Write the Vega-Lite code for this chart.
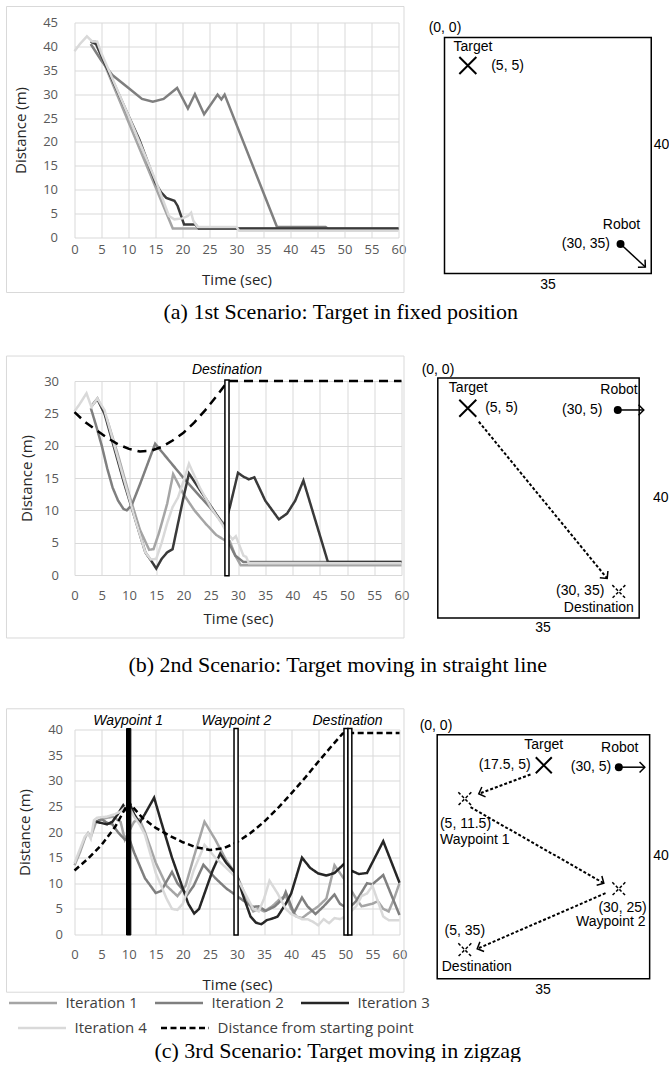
{
"$schema": "https://vega.github.io/schema/vega-lite/v6.json",
"background": "white",
"padding": {"left": 5.5, "top": 5.5, "right": 0, "bottom": 0},
"spacing": 31.5,
"resolve": {"scale": {"color": "independent", "strokeDash": "independent"}},
"datasets": {
"r1": [
{"s":"Iteration 1","t":3,"d":41},{"s":"Iteration 1","t":3.8,"d":41},{"s":"Iteration 1","t":18.2,"d":1.9},{"s":"Iteration 1","t":60,"d":1.9},
{"s":"Iteration 2","t":3,"d":40.5},{"s":"Iteration 2","t":5,"d":37},{"s":"Iteration 2","t":7,"d":34},{"s":"Iteration 2","t":10,"d":31.3},{"s":"Iteration 2","t":12.5,"d":29},{"s":"Iteration 2","t":14.5,"d":28.4},{"s":"Iteration 2","t":16.5,"d":29},{"s":"Iteration 2","t":19,"d":31.3},{"s":"Iteration 2","t":21,"d":27},{"s":"Iteration 2","t":22.3,"d":30},{"s":"Iteration 2","t":24,"d":25.8},{"s":"Iteration 2","t":26.5,"d":29.9},{"s":"Iteration 2","t":27.2,"d":28.9},{"s":"Iteration 2","t":27.8,"d":29.9},{"s":"Iteration 2","t":37.5,"d":2.2},{"s":"Iteration 2","t":46.5,"d":2.2},{"s":"Iteration 2","t":47,"d":1.8},{"s":"Iteration 2","t":60,"d":1.8},
{"s":"Iteration 3","t":3,"d":41},{"s":"Iteration 3","t":4,"d":40.5},{"s":"Iteration 3","t":6,"d":35.5},{"s":"Iteration 3","t":8,"d":30.5},{"s":"Iteration 3","t":10,"d":25.5},{"s":"Iteration 3","t":12,"d":20.5},{"s":"Iteration 3","t":14,"d":14.5},{"s":"Iteration 3","t":15,"d":11.5},{"s":"Iteration 3","t":16,"d":9.5},{"s":"Iteration 3","t":17,"d":8.3},{"s":"Iteration 3","t":18.5,"d":7.7},{"s":"Iteration 3","t":19.1,"d":6.6},{"s":"Iteration 3","t":20.3,"d":2.7},{"s":"Iteration 3","t":22.4,"d":2.7},{"s":"Iteration 3","t":23,"d":1.9},{"s":"Iteration 3","t":60,"d":1.9},
{"s":"Iteration 4","t":0,"d":39},{"s":"Iteration 4","t":1,"d":40.5},{"s":"Iteration 4","t":2.3,"d":42.1},{"s":"Iteration 4","t":3.3,"d":41},{"s":"Iteration 4","t":4.2,"d":41},{"s":"Iteration 4","t":5,"d":38.5},{"s":"Iteration 4","t":10,"d":25.5},{"s":"Iteration 4","t":15,"d":12},{"s":"Iteration 4","t":17.5,"d":4.5},{"s":"Iteration 4","t":18.5,"d":3.8},{"s":"Iteration 4","t":20,"d":4},{"s":"Iteration 4","t":21,"d":4.5},{"s":"Iteration 4","t":21.6,"d":5.2},{"s":"Iteration 4","t":22,"d":3.5},{"s":"Iteration 4","t":22.8,"d":2.2},{"s":"Iteration 4","t":30,"d":2.2},{"s":"Iteration 4","t":30.5,"d":1.4},{"s":"Iteration 4","t":60,"d":1.4}
],
"r2": [
{"s":"Iteration 1","t":3,"d":26},{"s":"Iteration 1","t":4.2,"d":27.3},{"s":"Iteration 1","t":6,"d":24},{"s":"Iteration 1","t":8,"d":18.5},{"s":"Iteration 1","t":10,"d":12.5},{"s":"Iteration 1","t":12,"d":7},{"s":"Iteration 1","t":13.7,"d":3.9},{"s":"Iteration 1","t":14.5,"d":4},{"s":"Iteration 1","t":15.5,"d":6.5},{"s":"Iteration 1","t":17,"d":11},{"s":"Iteration 1","t":18.1,"d":15.6},{"s":"Iteration 1","t":20,"d":12.5},{"s":"Iteration 1","t":22,"d":10},{"s":"Iteration 1","t":24,"d":8},{"s":"Iteration 1","t":26,"d":6.2},{"s":"Iteration 1","t":27.5,"d":5.4},{"s":"Iteration 1","t":28.5,"d":5.2},{"s":"Iteration 1","t":29.5,"d":3},{"s":"Iteration 1","t":30.5,"d":1.5},{"s":"Iteration 1","t":60,"d":1.5},
{"s":"Iteration 2","t":3,"d":25.8},{"s":"Iteration 2","t":4,"d":23},{"s":"Iteration 2","t":5,"d":20},{"s":"Iteration 2","t":6,"d":16.5},{"s":"Iteration 2","t":7,"d":13.5},{"s":"Iteration 2","t":8,"d":11.5},{"s":"Iteration 2","t":9,"d":10.2},{"s":"Iteration 2","t":9.6,"d":10},{"s":"Iteration 2","t":10.5,"d":10.8},{"s":"Iteration 2","t":12,"d":14},{"s":"Iteration 2","t":14.8,"d":20.3},{"s":"Iteration 2","t":20,"d":15},{"s":"Iteration 2","t":25,"d":10.3},{"s":"Iteration 2","t":27.5,"d":7.8},{"s":"Iteration 2","t":28.3,"d":5},{"s":"Iteration 2","t":29.5,"d":3},{"s":"Iteration 2","t":31,"d":2},{"s":"Iteration 2","t":60,"d":2},
{"s":"Iteration 3","t":3,"d":26},{"s":"Iteration 3","t":4.2,"d":27.2},{"s":"Iteration 3","t":5.5,"d":25},{"s":"Iteration 3","t":7,"d":20.5},{"s":"Iteration 3","t":9,"d":14.5},{"s":"Iteration 3","t":11,"d":9},{"s":"Iteration 3","t":13,"d":3.5},{"s":"Iteration 3","t":14,"d":2.3},{"s":"Iteration 3","t":15,"d":1},{"s":"Iteration 3","t":16,"d":2.5},{"s":"Iteration 3","t":17,"d":3.5},{"s":"Iteration 3","t":18,"d":4},{"s":"Iteration 3","t":19,"d":8},{"s":"Iteration 3","t":20,"d":12},{"s":"Iteration 3","t":21,"d":15.7},{"s":"Iteration 3","t":27.5,"d":7.5},{"s":"Iteration 3","t":28.5,"d":10.5},{"s":"Iteration 3","t":30,"d":15.8},{"s":"Iteration 3","t":31,"d":15.2},{"s":"Iteration 3","t":32,"d":14.8},{"s":"Iteration 3","t":33,"d":15.1},{"s":"Iteration 3","t":35,"d":11.5},{"s":"Iteration 3","t":37.5,"d":8.6},{"s":"Iteration 3","t":39,"d":9.5},{"s":"Iteration 3","t":40.5,"d":11.5},{"s":"Iteration 3","t":42,"d":14.6},{"s":"Iteration 3","t":46.5,"d":2},{"s":"Iteration 3","t":60,"d":2},
{"s":"Iteration 4","t":0,"d":25.3},{"s":"Iteration 4","t":1,"d":26.5},{"s":"Iteration 4","t":2.2,"d":28.1},{"s":"Iteration 4","t":3.1,"d":26},{"s":"Iteration 4","t":4.2,"d":27.3},{"s":"Iteration 4","t":5.5,"d":25.5},{"s":"Iteration 4","t":7,"d":21},{"s":"Iteration 4","t":9,"d":15},{"s":"Iteration 4","t":11,"d":9},{"s":"Iteration 4","t":13,"d":3.5},{"s":"Iteration 4","t":14,"d":2.4},{"s":"Iteration 4","t":15,"d":2.5},{"s":"Iteration 4","t":16,"d":5},{"s":"Iteration 4","t":17,"d":8},{"s":"Iteration 4","t":18,"d":10.5},{"s":"Iteration 4","t":19,"d":12},{"s":"Iteration 4","t":20,"d":14.5},{"s":"Iteration 4","t":21,"d":17.2},{"s":"Iteration 4","t":23,"d":13.5},{"s":"Iteration 4","t":25,"d":10.5},{"s":"Iteration 4","t":27,"d":8},{"s":"Iteration 4","t":28,"d":6.5},{"s":"Iteration 4","t":29,"d":5.5},{"s":"Iteration 4","t":29.6,"d":6},{"s":"Iteration 4","t":30.3,"d":4.5},{"s":"Iteration 4","t":31,"d":3},{"s":"Iteration 4","t":31.5,"d":2.8},{"s":"Iteration 4","t":32,"d":1.8},{"s":"Iteration 4","t":60,"d":1.8},
{"s":"Distance from starting point","t":0,"d":25.2},{"s":"Distance from starting point","t":2,"d":23.6},{"s":"Distance from starting point","t":4,"d":22.4},{"s":"Distance from starting point","t":6,"d":21.2},{"s":"Distance from starting point","t":8,"d":20.2},{"s":"Distance from starting point","t":10,"d":19.5},{"s":"Distance from starting point","t":12,"d":19.1},{"s":"Distance from starting point","t":14,"d":19.2},{"s":"Distance from starting point","t":16,"d":19.8},{"s":"Distance from starting point","t":18,"d":20.8},{"s":"Distance from starting point","t":20,"d":22},{"s":"Distance from starting point","t":22,"d":23.6},{"s":"Distance from starting point","t":24,"d":25.5},{"s":"Distance from starting point","t":26,"d":27.6},{"s":"Distance from starting point","t":28,"d":29.8},{"s":"Distance from starting point","t":28.5,"d":30},{"s":"Distance from starting point","t":60,"d":30}
],
"r3": [
{"s":"Iteration 1","t":0,"d":13.5},{"s":"Iteration 1","t":1,"d":16},{"s":"Iteration 1","t":2,"d":19},{"s":"Iteration 1","t":2.5,"d":19.8},{"s":"Iteration 1","t":3,"d":19},{"s":"Iteration 1","t":4,"d":22},{"s":"Iteration 1","t":5,"d":22.5},{"s":"Iteration 1","t":7,"d":23},{"s":"Iteration 1","t":8.5,"d":22},{"s":"Iteration 1","t":9.3,"d":18.5},{"s":"Iteration 1","t":10,"d":20},{"s":"Iteration 1","t":11,"d":22},{"s":"Iteration 1","t":12,"d":22.5},{"s":"Iteration 1","t":13,"d":20},{"s":"Iteration 1","t":15,"d":14},{"s":"Iteration 1","t":17,"d":9.5},{"s":"Iteration 1","t":19,"d":7.5},{"s":"Iteration 1","t":20.5,"d":9.5},{"s":"Iteration 1","t":22,"d":15},{"s":"Iteration 1","t":24,"d":22},{"s":"Iteration 1","t":26,"d":18.5},{"s":"Iteration 1","t":28,"d":14.5},{"s":"Iteration 1","t":30,"d":11.5},{"s":"Iteration 1","t":32,"d":6.5},{"s":"Iteration 1","t":33,"d":4.5},{"s":"Iteration 1","t":34,"d":5},{"s":"Iteration 1","t":35,"d":4.5},{"s":"Iteration 1","t":36.5,"d":5.5},{"s":"Iteration 1","t":38,"d":7},{"s":"Iteration 1","t":39,"d":7.5},{"s":"Iteration 1","t":40,"d":5},{"s":"Iteration 1","t":41,"d":3.5},{"s":"Iteration 1","t":42,"d":3.2},{"s":"Iteration 1","t":43,"d":4},{"s":"Iteration 1","t":45,"d":5.5},{"s":"Iteration 1","t":46.5,"d":7},{"s":"Iteration 1","t":48,"d":13.5},{"s":"Iteration 1","t":50,"d":10.5},{"s":"Iteration 1","t":52,"d":7},{"s":"Iteration 1","t":53,"d":5.5},{"s":"Iteration 1","t":55,"d":6},{"s":"Iteration 1","t":56,"d":6.5},{"s":"Iteration 1","t":57,"d":5},{"s":"Iteration 1","t":58,"d":4.5},{"s":"Iteration 1","t":59,"d":7},{"s":"Iteration 1","t":60,"d":10},
{"s":"Iteration 2","t":4,"d":22},{"s":"Iteration 2","t":5,"d":22.5},{"s":"Iteration 2","t":6,"d":21.8},{"s":"Iteration 2","t":7,"d":21.5},{"s":"Iteration 2","t":8,"d":20},{"s":"Iteration 2","t":9.3,"d":18.5},{"s":"Iteration 2","t":10,"d":19},{"s":"Iteration 2","t":11,"d":16},{"s":"Iteration 2","t":13,"d":11},{"s":"Iteration 2","t":15,"d":8.1},{"s":"Iteration 2","t":16,"d":8.5},{"s":"Iteration 2","t":18,"d":12.2},{"s":"Iteration 2","t":19,"d":10},{"s":"Iteration 2","t":20.8,"d":7.7},{"s":"Iteration 2","t":22,"d":9.5},{"s":"Iteration 2","t":23.8,"d":13.6},{"s":"Iteration 2","t":26,"d":11},{"s":"Iteration 2","t":28,"d":9},{"s":"Iteration 2","t":30,"d":7.5},{"s":"Iteration 2","t":32,"d":6},{"s":"Iteration 2","t":33,"d":5.4},{"s":"Iteration 2","t":34,"d":5.5},{"s":"Iteration 2","t":35.3,"d":4.6},{"s":"Iteration 2","t":37,"d":5.5},{"s":"Iteration 2","t":38.5,"d":7},{"s":"Iteration 2","t":39,"d":8.3},{"s":"Iteration 2","t":40.5,"d":4.2},{"s":"Iteration 2","t":42,"d":7.2},{"s":"Iteration 2","t":43,"d":5.5},{"s":"Iteration 2","t":44.5,"d":4},{"s":"Iteration 2","t":46,"d":5.5},{"s":"Iteration 2","t":48,"d":7.8},{"s":"Iteration 2","t":49,"d":6},{"s":"Iteration 2","t":50.5,"d":5},{"s":"Iteration 2","t":52,"d":6.5},{"s":"Iteration 2","t":54,"d":10},{"s":"Iteration 2","t":55,"d":9.8},{"s":"Iteration 2","t":57,"d":11.6},{"s":"Iteration 2","t":60,"d":3.8},
{"s":"Iteration 3","t":4,"d":22},{"s":"Iteration 3","t":6,"d":21.5},{"s":"Iteration 3","t":7,"d":22},{"s":"Iteration 3","t":8,"d":23.5},{"s":"Iteration 3","t":9,"d":25.2},{"s":"Iteration 3","t":9.6,"d":24.2},{"s":"Iteration 3","t":10,"d":26},{"s":"Iteration 3","t":11,"d":23.5},{"s":"Iteration 3","t":12,"d":21.8},{"s":"Iteration 3","t":13,"d":23.5},{"s":"Iteration 3","t":14.7,"d":26.7},{"s":"Iteration 3","t":16,"d":22},{"s":"Iteration 3","t":18,"d":15},{"s":"Iteration 3","t":20,"d":9},{"s":"Iteration 3","t":21,"d":6},{"s":"Iteration 3","t":22.1,"d":4.1},{"s":"Iteration 3","t":23,"d":5},{"s":"Iteration 3","t":24,"d":8},{"s":"Iteration 3","t":25.5,"d":12.5},{"s":"Iteration 3","t":26.9,"d":15.8},{"s":"Iteration 3","t":28,"d":14},{"s":"Iteration 3","t":30,"d":11.6},{"s":"Iteration 3","t":31,"d":8},{"s":"Iteration 3","t":32.5,"d":3.5},{"s":"Iteration 3","t":33.5,"d":2.3},{"s":"Iteration 3","t":34.5,"d":2},{"s":"Iteration 3","t":35.5,"d":2.8},{"s":"Iteration 3","t":36.5,"d":3.1},{"s":"Iteration 3","t":37.5,"d":3.5},{"s":"Iteration 3","t":39,"d":6},{"s":"Iteration 3","t":40,"d":8},{"s":"Iteration 3","t":42,"d":15},{"s":"Iteration 3","t":43.5,"d":13},{"s":"Iteration 3","t":45,"d":11.9},{"s":"Iteration 3","t":46.5,"d":11.5},{"s":"Iteration 3","t":48,"d":12},{"s":"Iteration 3","t":50,"d":14},{"s":"Iteration 3","t":51,"d":12.5},{"s":"Iteration 3","t":52.5,"d":11.8},{"s":"Iteration 3","t":54,"d":12},{"s":"Iteration 3","t":57,"d":18.2},{"s":"Iteration 3","t":60,"d":10.1},
{"s":"Iteration 4","t":0,"d":13.9},{"s":"Iteration 4","t":1.9,"d":19.1},{"s":"Iteration 4","t":2.5,"d":19.7},{"s":"Iteration 4","t":3,"d":18.7},{"s":"Iteration 4","t":3.6,"d":22.3},{"s":"Iteration 4","t":4.2,"d":22.8},{"s":"Iteration 4","t":6,"d":23},{"s":"Iteration 4","t":7.5,"d":23.5},{"s":"Iteration 4","t":8.5,"d":24},{"s":"Iteration 4","t":9.5,"d":25},{"s":"Iteration 4","t":10,"d":25},{"s":"Iteration 4","t":11,"d":23},{"s":"Iteration 4","t":12,"d":21.5},{"s":"Iteration 4","t":13,"d":19.5},{"s":"Iteration 4","t":15,"d":12},{"s":"Iteration 4","t":17,"d":7},{"s":"Iteration 4","t":18,"d":5},{"s":"Iteration 4","t":19,"d":4.8},{"s":"Iteration 4","t":20,"d":6},{"s":"Iteration 4","t":21,"d":9},{"s":"Iteration 4","t":22,"d":12.5},{"s":"Iteration 4","t":24,"d":17.5},{"s":"Iteration 4","t":26,"d":15},{"s":"Iteration 4","t":28,"d":13},{"s":"Iteration 4","t":30,"d":11},{"s":"Iteration 4","t":32,"d":7},{"s":"Iteration 4","t":33,"d":5},{"s":"Iteration 4","t":34,"d":4.5},{"s":"Iteration 4","t":35,"d":7},{"s":"Iteration 4","t":36,"d":10.5},{"s":"Iteration 4","t":37.5,"d":8},{"s":"Iteration 4","t":39,"d":5},{"s":"Iteration 4","t":40,"d":4},{"s":"Iteration 4","t":42,"d":3},{"s":"Iteration 4","t":43,"d":3},{"s":"Iteration 4","t":44,"d":2.5},{"s":"Iteration 4","t":45,"d":1.8},{"s":"Iteration 4","t":46,"d":3},{"s":"Iteration 4","t":47,"d":2.2},{"s":"Iteration 4","t":48,"d":3.2},{"s":"Iteration 4","t":49,"d":3},{"s":"Iteration 4","t":50,"d":3.5},{"s":"Iteration 4","t":52,"d":5.5},{"s":"Iteration 4","t":53,"d":7.5},{"s":"Iteration 4","t":54,"d":8},{"s":"Iteration 4","t":55,"d":9.5},{"s":"Iteration 4","t":56,"d":6.5},{"s":"Iteration 4","t":57,"d":3.5},{"s":"Iteration 4","t":58,"d":2.8},{"s":"Iteration 4","t":60,"d":2.8},
{"s":"Distance from starting point","t":0,"d":12.5},{"s":"Distance from starting point","t":2.5,"d":14.8},{"s":"Distance from starting point","t":5,"d":17.5},{"s":"Distance from starting point","t":7.5,"d":21},{"s":"Distance from starting point","t":10,"d":25.8},{"s":"Distance from starting point","t":12.5,"d":22.8},{"s":"Distance from starting point","t":15,"d":20.8},{"s":"Distance from starting point","t":17.5,"d":19.3},{"s":"Distance from starting point","t":20,"d":18},{"s":"Distance from starting point","t":22.5,"d":17},{"s":"Distance from starting point","t":25,"d":16.5},{"s":"Distance from starting point","t":27.5,"d":16.8},{"s":"Distance from starting point","t":30,"d":18},{"s":"Distance from starting point","t":32.5,"d":19.8},{"s":"Distance from starting point","t":35,"d":22},{"s":"Distance from starting point","t":37.5,"d":24.6},{"s":"Distance from starting point","t":40,"d":27.5},{"s":"Distance from starting point","t":42.5,"d":30.5},{"s":"Distance from starting point","t":45,"d":33.7},{"s":"Distance from starting point","t":47.5,"d":36.8},{"s":"Distance from starting point","t":49.5,"d":39.2},{"s":"Distance from starting point","t":50,"d":39.3},{"s":"Distance from starting point","t":60,"d":39.3}
],
"bars2": [{"name":"Destination","t":27.6,"t2":28.35}],
"marks2": [{"name":"Destination","t":27.97}],
"bars3": [{"name":"Waypoint 1","t":9.6,"t2":10.4},{"name":"Waypoint 2","t":29.45,"t2":30.2},{"name":"Destination","t":49.75,"t2":50.48},{"name":"Destination","t":50.48,"t2":51.2}],
"marks3": [{"name":"Waypoint 1","t":9.9},{"name":"Waypoint 2","t":29.9},{"name":"Destination","t":50.4}],
"room": [{"x":0,"y":0,"x2":35,"y2":40}],
"pts1": [{"x":3.95,"y":4.75,"kind":"target"},{"x":29.8,"y":35,"kind":"robot"}],
"seg1": [{"x":29.8,"y":35,"x2":34,"y2":38.9,"kind":"robot","ang":43}],
"lab1": [{"x":0.08,"y":-1.69,"text":"(0, 0)"},{"x":4.83,"y":1.64,"text":"Target"},{"x":10.67,"y":4.75,"text":"(5, 5)"},{"x":29.97,"y":31.86,"text":"Robot"},{"x":23.93,"y":35.03,"text":"(30, 35)"},{"x":17.52,"y":42.03,"text":"35"},{"x":36.74,"y":18.3,"text":"40"}],
"pts2": [{"x":5.21,"y":5.05,"kind":"target"},{"x":31.28,"y":5.33,"kind":"robot"},{"x":31.46,"y":35.6,"kind":"destination"}],
"seg2": [{"x":31.28,"y":5.33,"x2":35.8,"y2":5.33,"kind":"robot","ang":0},{"x":7.13,"y":7.28,"x2":29.44,"y2":33.4,"kind":"target","ang":50.6}],
"lab2": [{"x":0.03,"y":-1.33,"text":"(0, 0)"},{"x":5.3,"y":1.72,"text":"Target"},{"x":11.07,"y":5.05,"text":"(5, 5)"},{"x":31.5,"y":2.0,"text":"Robot"},{"x":25.1,"y":5.33,"text":"(30, 5)"},{"x":24.75,"y":35.5,"text":"(30, 35)"},{"x":27.98,"y":38.38,"text":"Destination"},{"x":18.28,"y":41.6,"text":"35"},{"x":38.76,"y":20.05,"text":"40"}],
"pts3": [{"x":17.56,"y":5.0,"kind":"target"},{"x":29.92,"y":5.31,"kind":"robot"},{"x":4.55,"y":10.49,"kind":"waypoint"},{"x":29.92,"y":25.25,"kind":"waypoint"},{"x":4.55,"y":35.25,"kind":"destination"}],
"seg3": [{"x":29.92,"y":5.31,"x2":34.2,"y2":5.31,"kind":"robot","ang":0},{"x":15.37,"y":6.51,"x2":6.85,"y2":9.67,"kind":"target","ang":159.5},{"x":5.49,"y":11.87,"x2":27.45,"y2":24.33,"kind":"target","ang":29.7},{"x":27.73,"y":25.97,"x2":6.59,"y2":35.08,"kind":"target","ang":156.6}],
"lab3": [{"x":-0.2,"y":-1.52,"text":"(0, 0)"},{"x":17.56,"y":1.75,"text":"Target"},{"x":11.12,"y":5.03,"text":"(17.5, 5)"},{"x":30.08,"y":2.2,"text":"Robot"},{"x":25.34,"y":5.31,"text":"(30, 5)"},{"x":4.66,"y":14.7,"text":"(5, 11.5)"},{"x":6.19,"y":17.2,"text":"Waypoint 1"},{"x":30.53,"y":28.36,"text":"(30, 25)"},{"x":28.6,"y":30.72,"text":"Waypoint 2"},{"x":4.55,"y":32.2,"text":"(5, 35)"},{"x":6.52,"y":38.1,"text":"Destination"},{"x":17.43,"y":41.92,"text":"35"},{"x":36.87,"y":19.95,"text":"40"}]
},
"vconcat": [
{
"spacing": 12,
"bounds": "flush",
"resolve": {"scale": {"color": "independent", "strokeDash": "independent"}},
"title": {"text": "(a) 1st Scenario: Target in fixed position", "orient": "bottom", "anchor": "middle", "frame": "bounds", "dx": 3, "offset": 9.5, "font": "Liberation Serif", "fontSize": 22, "fontWeight": "normal", "color": "#000000"},
"hconcat": [
{
"width": 324, "height": 215,
"layer": [
{"data": {"name": "r1"}, "mark": {"type": "line", "strokeWidth": 2.5},
 "encoding": {
  "x": {"field": "t", "type": "quantitative", "scale": {"domain": [0, 60], "nice": false, "zero": false}, "axis": {"values": [0,5,10,15,20,25,30,35,40,45,50,55,60], "title": "Time (sec)", "labelPadding": 6, "titlePadding": 16}},
  "y": {"field": "d", "type": "quantitative", "scale": {"domain": [0, 45], "nice": false}, "axis": {"values": [0,5,10,15,20,25,30,35,40,45], "title": "Distance (m)", "labelPadding": 17, "titlePadding": 14.5}},
  "color": {"field": "s", "type": "nominal", "scale": {"domain": ["Iteration 1","Iteration 2","Iteration 3","Iteration 4"], "range": ["#a5a5a5","#7f7f7f","#3a3a3a","#d9d9d9"]}, "legend": null}
 }},
{"data": {"values": [{}]}, "mark": {"type": "rect", "filled": false, "stroke": "#d9d9d9", "strokeWidth": 1},
 "encoding": {
  "x": {"datum": -12.59, "type": "quantitative", "axis": {"values": [0,5,10,15,20,25,30,35,40,45,50,55,60], "title": "Time (sec)", "labelPadding": 6, "titlePadding": 16}},
  "x2": {"datum": 61.02},
  "y": {"datum": 48.35, "type": "quantitative", "axis": {"values": [0,5,10,15,20,25,30,35,40,45], "title": "Distance (m)", "labelPadding": 17, "titlePadding": 14.5}},
  "y2": {"datum": -11.51}}}
]
},
{
"width": 259, "height": 270,
"encoding": {
 "x": {"field": "x", "type": "quantitative", "scale": {"domain": [-5.757, 38.09], "nice": false, "zero": false}, "axis": null},
 "y": {"field": "y", "type": "quantitative", "scale": {"domain": [-2.54, 43.22], "nice": false, "zero": false, "reverse": true}, "axis": null}
},
"layer": [
{"data": {"name": "room"}, "mark": {"type": "rect", "filled": false, "stroke": "#000000", "strokeWidth": 1.5},
 "encoding": {"x2": {"field": "x2"}, "y2": {"field": "y2"}}},
{"data": {"name": "seg1"}, "transform": [{"filter": "datum.kind === 'robot'"}], "mark": {"type": "rule", "stroke": "#000000", "strokeWidth": 1.5},
 "encoding": {"x2": {"field": "x2"}, "y2": {"field": "y2"}}},
{"data": {"name": "seg1"}, "mark": {"type": "point", "shape": "M-1,-1L0,0L-1,1", "filled": false, "stroke": "#000000", "strokeWidth": 1.5, "size": 110, "opacity": 1},
 "encoding": {"x": {"field": "x2", "type": "quantitative"}, "y": {"field": "y2", "type": "quantitative"}, "angle": {"field": "ang", "type": "quantitative", "scale": null}}},
{"data": {"name": "pts1"}, "transform": [{"filter": "datum.kind === 'target'"}], "mark": {"type": "point", "shape": "M-1,-1L1,1M1,-1L-1,1", "filled": false, "stroke": "#000000", "strokeWidth": 2, "size": 289, "opacity": 1}},
{"data": {"name": "pts1"}, "transform": [{"filter": "datum.kind === 'robot'"}], "mark": {"type": "point", "shape": "circle", "filled": true, "color": "#000000", "size": 64, "opacity": 1}},
{"data": {"name": "lab1"}, "mark": {"type": "text", "font": "Liberation Sans", "fontSize": 14, "color": "#000000", "align": "center", "baseline": "middle"},
 "encoding": {"text": {"field": "text"}}}
]
}
]
},
{
"spacing": 9,
"bounds": "flush",
"resolve": {"scale": {"color": "independent", "strokeDash": "independent"}},
"title": {"text": "(b) 2nd Scenario: Target moving in straight line", "orient": "bottom", "anchor": "middle", "frame": "bounds", "dx": 0, "offset": 16.5, "font": "Liberation Serif", "fontSize": 22, "fontWeight": "normal", "color": "#000000"},
"hconcat": [
{
"width": 327, "height": 194,
"layer": [
{"data": {"name": "r2"}, "mark": {"type": "line", "strokeWidth": 2.5},
 "encoding": {
  "x": {"field": "t", "type": "quantitative", "scale": {"domain": [0, 60], "nice": false, "zero": false}, "axis": {"values": [0,5,10,15,20,25,30,35,40,45,50,55,60], "title": "Time (sec)", "labelPadding": 14, "titlePadding": 9}},
  "y": {"field": "d", "type": "quantitative", "scale": {"domain": [0, 30], "nice": false}, "axis": {"values": [0,5,10,15,20,25,30], "title": "Distance (m)", "labelPadding": 16, "titlePadding": 9.5}},
  "color": {"field": "s", "type": "nominal", "scale": {"domain": ["Iteration 1","Iteration 2","Iteration 3","Iteration 4","Distance from starting point"], "range": ["#a5a5a5","#7f7f7f","#3a3a3a","#d9d9d9","#000000"]}, "legend": null},
  "strokeDash": {"field": "s", "type": "nominal", "scale": {"domain": ["Iteration 1","Iteration 2","Iteration 3","Iteration 4","Distance from starting point"], "range": [[1,0],[1,0],[1,0],[1,0],[9,6]]}, "legend": null}
 }},
{"data": {"name": "bars2"}, "mark": {"type": "rect", "fill": "#ffffff", "stroke": "#000000", "strokeWidth": 1.5},
 "encoding": {
  "x": {"field": "t", "type": "quantitative", "axis": {"values": [0,5,10,15,20,25,30,35,40,45,50,55,60], "title": "Time (sec)", "labelPadding": 14, "titlePadding": 9}},
  "x2": {"field": "t2"},
  "y": {"datum": -0.1, "type": "quantitative", "axis": {"values": [0,5,10,15,20,25,30], "title": "Distance (m)", "labelPadding": 16, "titlePadding": 9.5}},
  "y2": {"datum": 30.15}}},
{"data": {"name": "marks2"}, "mark": {"type": "text", "font": "Liberation Sans", "fontStyle": "italic", "fontSize": 14, "color": "#000000", "baseline": "middle", "dy": -11},
 "encoding": {
  "x": {"field": "t", "type": "quantitative", "axis": {"values": [0,5,10,15,20,25,30,35,40,45,50,55,60], "title": "Time (sec)", "labelPadding": 14, "titlePadding": 9}},
  "y": {"datum": 30, "type": "quantitative", "axis": {"values": [0,5,10,15,20,25,30], "title": "Distance (m)", "labelPadding": 16, "titlePadding": 9.5}},
  "text": {"field": "name"}}},
{"data": {"values": [{}]}, "mark": {"type": "rect", "filled": false, "stroke": "#d9d9d9", "strokeWidth": 1},
 "encoding": {
  "x": {"datum": -12.48, "type": "quantitative", "axis": {"values": [0,5,10,15,20,25,30,35,40,45,50,55,60], "title": "Time (sec)", "labelPadding": 14, "titlePadding": 9}},
  "x2": {"datum": 60.46},
  "y": {"datum": 33.86, "type": "quantitative", "axis": {"values": [0,5,10,15,20,25,30], "title": "Distance (m)", "labelPadding": 16, "titlePadding": 9.5}},
  "y2": {"datum": -9.74}}}
]
},
{
"width": 259, "height": 257,
"encoding": {
 "x": {"field": "x", "type": "quantitative", "scale": {"domain": [-4.745, 40.27], "nice": false, "zero": false}, "axis": null},
 "y": {"field": "y", "type": "quantitative", "scale": {"domain": [0.5, 43.33], "nice": false, "zero": false, "reverse": true}, "axis": null}
},
"layer": [
{"data": {"name": "room"}, "mark": {"type": "rect", "filled": false, "stroke": "#000000", "strokeWidth": 1.5},
 "encoding": {"x2": {"field": "x2"}, "y2": {"field": "y2"}}},
{"data": {"name": "seg2"}, "transform": [{"filter": "datum.kind === 'robot'"}], "mark": {"type": "rule", "stroke": "#000000", "strokeWidth": 1.5},
 "encoding": {"x2": {"field": "x2"}, "y2": {"field": "y2"}}},
{"data": {"name": "seg2"}, "transform": [{"filter": "datum.kind === 'target'"}], "mark": {"type": "rule", "stroke": "#000000", "strokeWidth": 2, "strokeDash": [3, 2]},
 "encoding": {"x2": {"field": "x2"}, "y2": {"field": "y2"}}},
{"data": {"name": "seg2"}, "mark": {"type": "point", "shape": "M-1,-1L0,0L-1,1", "filled": false, "stroke": "#000000", "strokeWidth": 1.5, "size": 110, "opacity": 1},
 "encoding": {"x": {"field": "x2", "type": "quantitative"}, "y": {"field": "y2", "type": "quantitative"}, "angle": {"field": "ang", "type": "quantitative", "scale": null}}},
{"data": {"name": "pts2"}, "transform": [{"filter": "datum.kind === 'target'"}], "mark": {"type": "point", "shape": "M-1,-1L1,1M1,-1L-1,1", "filled": false, "stroke": "#000000", "strokeWidth": 2, "size": 289, "opacity": 1}},
{"data": {"name": "pts2"}, "transform": [{"filter": "datum.kind === 'destination' || datum.kind === 'waypoint'"}], "mark": {"type": "point", "shape": "M-1,-1L1,1M1,-1L-1,1", "filled": false, "stroke": "#000000", "strokeWidth": 1.5, "strokeDash": [3, 2], "size": 169, "opacity": 1}},
{"data": {"name": "pts2"}, "transform": [{"filter": "datum.kind === 'robot'"}], "mark": {"type": "point", "shape": "circle", "filled": true, "color": "#000000", "size": 64, "opacity": 1}},
{"data": {"name": "lab2"}, "mark": {"type": "text", "font": "Liberation Sans", "fontSize": 14, "color": "#000000", "align": "center", "baseline": "middle"},
 "encoding": {"text": {"field": "text"}}}
]
}
]
},
{
"spacing": 11,
"bounds": "flush",
"resolve": {"scale": {"color": "independent", "strokeDash": "independent"}},
"title": {"text": "(c) 3rd Scenario: Target moving in zigzag", "orient": "bottom", "anchor": "middle", "frame": "bounds", "dx": 0, "offset": 3, "font": "Liberation Serif", "fontSize": 22, "fontWeight": "normal", "color": "#000000"},
"hconcat": [
{
"width": 325, "height": 205,
"layer": [
{"data": {"name": "r3"}, "mark": {"type": "line", "strokeWidth": 2.5},
 "encoding": {
  "x": {"field": "t", "type": "quantitative", "scale": {"domain": [0, 60], "nice": false, "zero": false}, "axis": {"values": [0,5,10,15,20,25,30,35,40,45,50,55,60], "title": "Time (sec)", "labelPadding": 14, "titlePadding": 16}},
  "y": {"field": "d", "type": "quantitative", "scale": {"domain": [0, 40], "nice": false}, "axis": {"values": [0,5,10,15,20,25,30,35,40], "title": "Distance (m)", "labelPadding": 12, "titlePadding": 15.5}},
  "color": {"field": "s", "type": "nominal", "scale": {"domain": ["Iteration 1","Iteration 2","Iteration 3","Iteration 4","Distance from starting point"], "range": ["#a5a5a5","#7f7f7f","#262626","#d9d9d9","#000000"]},
   "legend": {"title": null, "values": ["Iteration 1","Iteration 2","Iteration 3"], "orient": "none", "legendX": -67, "legendY": 264, "direction": "horizontal", "columns": 3, "symbolType": "stroke", "symbolSize": 2304, "symbolStrokeWidth": 2.5, "clipHeight": 19, "labelFont": "Open Sans", "labelFontSize": 15, "labelColor": "#404040", "labelOffset": 7, "columnPadding": 15, "rowPadding": 6, "labelLimit": 400, "padding": 0}},
  "strokeDash": {"field": "s", "type": "nominal", "scale": {"domain": ["Distance from starting point","Iteration 1","Iteration 2","Iteration 3","Iteration 4"], "range": [[6,3.5],[1,0],[1,0],[1,0],[1,0]]},
   "legend": {"title": null, "values": ["Iteration 4","Distance from starting point"], "orient": "none", "legendX": -58, "legendY": 289, "direction": "horizontal", "columns": 2, "symbolType": "stroke", "symbolSize": 2304, "symbolStrokeWidth": 2.5, "symbolStrokeColor": "#000000", "clipHeight": 19, "labelFont": "Open Sans", "labelFontSize": 15, "labelColor": "#404040", "labelOffset": 7, "columnPadding": 12, "labelLimit": 400, "padding": 0,
    "encode": {"symbols": {"update": {"stroke": {"signal": "datum.value === 'Iteration 4' ? '#d9d9d9' : '#000000'"}}}}}}
 }},
{"data": {"name": "bars3"}, "transform": [{"filter": "datum.name === 'Waypoint 1'"}], "mark": {"type": "rect", "fill": "#000000", "stroke": "#000000", "strokeWidth": 1},
 "encoding": {
  "x": {"field": "t", "type": "quantitative", "axis": {"values": [0,5,10,15,20,25,30,35,40,45,50,55,60], "title": "Time (sec)", "labelPadding": 14, "titlePadding": 16}},
  "x2": {"field": "t2"},
  "y": {"datum": -0.1, "type": "quantitative", "axis": {"values": [0,5,10,15,20,25,30,35,40], "title": "Distance (m)", "labelPadding": 12, "titlePadding": 15.5}},
  "y2": {"datum": 40.2}}},
{"data": {"name": "bars3"}, "transform": [{"filter": "datum.name !== 'Waypoint 1'"}], "mark": {"type": "rect", "fill": "#ffffff", "stroke": "#000000", "strokeWidth": 1.5},
 "encoding": {
  "x": {"field": "t", "type": "quantitative", "axis": {"values": [0,5,10,15,20,25,30,35,40,45,50,55,60], "title": "Time (sec)", "labelPadding": 14, "titlePadding": 16}},
  "x2": {"field": "t2"},
  "y": {"datum": -0.1, "type": "quantitative", "axis": {"values": [0,5,10,15,20,25,30,35,40], "title": "Distance (m)", "labelPadding": 12, "titlePadding": 15.5}},
  "y2": {"datum": 40.2}}},
{"data": {"name": "marks3"}, "mark": {"type": "text", "font": "Liberation Sans", "fontStyle": "italic", "fontSize": 14, "color": "#000000", "baseline": "middle", "dy": -9},
 "encoding": {
  "x": {"field": "t", "type": "quantitative", "axis": {"values": [0,5,10,15,20,25,30,35,40,45,50,55,60], "title": "Time (sec)", "labelPadding": 14, "titlePadding": 16}},
  "y": {"datum": 40, "type": "quantitative", "axis": {"values": [0,5,10,15,20,25,30,35,40], "title": "Distance (m)", "labelPadding": 12, "titlePadding": 15.5}},
  "text": {"field": "name"}}},
{"data": {"values": [{}]}, "mark": {"type": "rect", "filled": false, "stroke": "#d9d9d9", "strokeWidth": 1},
 "encoding": {
  "x": {"datum": -12.55, "type": "quantitative", "axis": {"values": [0,5,10,15,20,25,30,35,40,45,50,55,60], "title": "Time (sec)", "labelPadding": 14, "titlePadding": 16}},
  "x2": {"datum": 60.83},
  "y": {"datum": 44.04, "type": "quantitative", "axis": {"values": [0,5,10,15,20,25,30,35,40], "title": "Distance (m)", "labelPadding": 12, "titlePadding": 15.5}},
  "y2": {"datum": -11.26}}}
]
},
{
"width": 259, "height": 263,
"encoding": {
 "x": {"field": "x", "type": "quantitative", "scale": {"domain": [-4.399, 38.27], "nice": false, "zero": false}, "axis": null},
 "y": {"field": "y", "type": "quantitative", "scale": {"domain": [-0.869, 42.25], "nice": false, "zero": false, "reverse": true}, "axis": null}
},
"layer": [
{"data": {"name": "room"}, "mark": {"type": "rect", "filled": false, "stroke": "#000000", "strokeWidth": 1.5},
 "encoding": {"x2": {"field": "x2"}, "y2": {"field": "y2"}}},
{"data": {"name": "seg3"}, "transform": [{"filter": "datum.kind === 'robot'"}], "mark": {"type": "rule", "stroke": "#000000", "strokeWidth": 1.5},
 "encoding": {"x2": {"field": "x2"}, "y2": {"field": "y2"}}},
{"data": {"name": "seg3"}, "transform": [{"filter": "datum.kind === 'target'"}], "mark": {"type": "rule", "stroke": "#000000", "strokeWidth": 2, "strokeDash": [3, 2]},
 "encoding": {"x2": {"field": "x2"}, "y2": {"field": "y2"}}},
{"data": {"name": "seg3"}, "mark": {"type": "point", "shape": "M-1,-1L0,0L-1,1", "filled": false, "stroke": "#000000", "strokeWidth": 1.5, "size": 110, "opacity": 1},
 "encoding": {"x": {"field": "x2", "type": "quantitative"}, "y": {"field": "y2", "type": "quantitative"}, "angle": {"field": "ang", "type": "quantitative", "scale": null}}},
{"data": {"name": "pts3"}, "transform": [{"filter": "datum.kind === 'target'"}], "mark": {"type": "point", "shape": "M-1,-1L1,1M1,-1L-1,1", "filled": false, "stroke": "#000000", "strokeWidth": 2, "size": 256, "opacity": 1}},
{"data": {"name": "pts3"}, "transform": [{"filter": "datum.kind === 'destination' || datum.kind === 'waypoint'"}], "mark": {"type": "point", "shape": "M-1,-1L1,1M1,-1L-1,1", "filled": false, "stroke": "#000000", "strokeWidth": 1.5, "strokeDash": [3, 2], "size": 169, "opacity": 1}},
{"data": {"name": "pts3"}, "transform": [{"filter": "datum.kind === 'robot'"}], "mark": {"type": "point", "shape": "circle", "filled": true, "color": "#000000", "size": 64, "opacity": 1}},
{"data": {"name": "lab3"}, "mark": {"type": "text", "font": "Liberation Sans", "fontSize": 14, "color": "#000000", "align": "center", "baseline": "middle"},
 "encoding": {"text": {"field": "text"}}}
]
}
]
}
],
"config": {
 "view": {"stroke": null},
 "axis": {"domain": false, "ticks": false, "grid": true, "gridColor": "#d9d9d9", "gridWidth": 1, "labelFont": "Open Sans", "labelFontSize": 13, "labelColor": "#595959", "titleFont": "Open Sans", "titleFontSize": 15, "titleFontWeight": "normal", "titleColor": "#262626", "labelFlush": false, "labelOverlap": false}
}
}
